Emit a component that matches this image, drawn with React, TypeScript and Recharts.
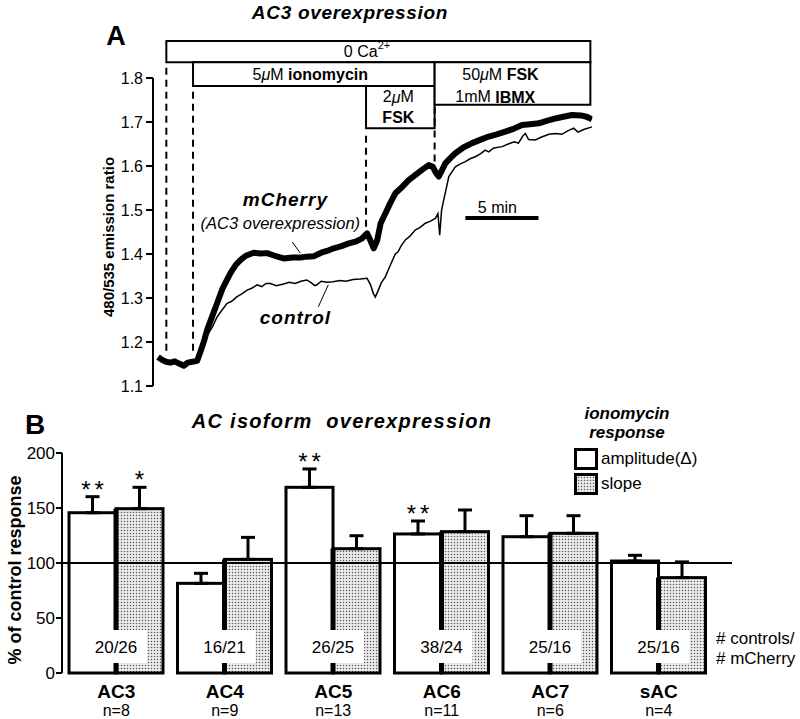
import React from 'react';
import {
  LineChart, Line, XAxis, YAxis, ReferenceArea, ReferenceLine, ReferenceDot,
  BarChart, Bar, ErrorBar, Legend,
} from 'recharts';

const FONT = '"Liberation Sans", Arial, Helvetica, sans-serif';

// ---- Panel A: 480/535 ratio over time (min) ----
const mcherryTime = [0.05, 0.3, 0.6, 0.9, 1.2, 1.5, 1.82, 2.1, 2.4, 2.74, 2.97, 3.2, 3.43, 3.8, 4.12, 4.5, 5.03, 5.4, 5.72, 6.1, 6.64, 7.1, 7.56, 8.1, 8.71, 9.3, 9.86, 10.3, 10.78, 11.3, 11.7, 12.16, 12.7, 13.2, 13.66, 14.1, 14.46, 14.7, 14.92, 15.15, 15.4, 15.72, 16.05, 16.41, 16.9, 17.33, 17.8, 18.25, 18.71, 19.0, 19.2, 19.4, 19.62, 19.86, 20.2, 20.55, 21.1, 21.7, 22.3, 22.85, 23.4, 24.0, 24.6, 25.15, 25.7, 26.3, 26.9, 27.45, 28.0, 28.6, 29.2, 29.6, 29.97];
const mcherryRatio = [1.166, 1.16, 1.155, 1.153, 1.156, 1.151, 1.146, 1.153, 1.155, 1.157, 1.178, 1.2, 1.227, 1.26, 1.288, 1.322, 1.356, 1.375, 1.386, 1.396, 1.403, 1.401, 1.402, 1.396, 1.39, 1.392, 1.392, 1.394, 1.395, 1.403, 1.407, 1.413, 1.418, 1.424, 1.428, 1.435, 1.447, 1.43, 1.413, 1.43, 1.47, 1.492, 1.515, 1.538, 1.553, 1.568, 1.58, 1.591, 1.602, 1.598, 1.585, 1.576, 1.59, 1.606, 1.618, 1.629, 1.642, 1.652, 1.66, 1.667, 1.672, 1.678, 1.685, 1.693, 1.695, 1.697, 1.703, 1.708, 1.712, 1.716, 1.715, 1.712, 1.706];

const controlTime = [0.05, 0.4, 0.8, 1.2, 1.6, 2.0, 2.4, 2.74, 2.97, 3.2, 3.43, 3.79, 4.12, 4.4, 4.81, 5.1, 5.5, 5.85, 6.19, 6.5, 6.88, 7.2, 7.5, 7.8, 8.2, 8.7, 9.1, 9.5, 9.9, 10.3, 10.6, 10.85, 11.0, 11.3, 11.7, 12.1, 12.6, 13.0, 13.5, 14.0, 14.46, 14.7, 14.9, 15.03, 15.2, 15.45, 15.72, 16.0, 16.41, 16.6, 16.8, 17.1, 17.4, 17.8, 18.1, 18.48, 18.8, 19.17, 19.35, 19.47, 19.6, 19.75, 20.1, 20.55, 20.9, 21.24, 21.6, 21.93, 22.3, 22.6, 22.85, 23.2, 23.77, 24.2, 24.6, 24.9, 25.2, 25.38, 25.6, 26.07, 26.5, 27.0, 27.45, 27.9, 28.3, 28.71, 29.0, 29.4, 29.97];
const controlRatio = [1.163, 1.157, 1.152, 1.155, 1.149, 1.154, 1.152, 1.156, 1.172, 1.195, 1.215, 1.234, 1.257, 1.27, 1.288, 1.292, 1.303, 1.31, 1.318, 1.322, 1.33, 1.326, 1.333, 1.333, 1.328, 1.332, 1.336, 1.333, 1.338, 1.341, 1.335, 1.328, 1.33, 1.338, 1.336, 1.337, 1.34, 1.338, 1.342, 1.343, 1.345, 1.33, 1.31, 1.302, 1.315, 1.335, 1.348, 1.37, 1.4, 1.405, 1.418, 1.432, 1.44, 1.455, 1.46, 1.47, 1.474, 1.481, 1.492, 1.443, 1.5, 1.523, 1.576, 1.598, 1.605, 1.61, 1.617, 1.621, 1.628, 1.636, 1.632, 1.641, 1.644, 1.65, 1.655, 1.652, 1.668, 1.674, 1.66, 1.659, 1.666, 1.672, 1.674, 1.672, 1.68, 1.686, 1.677, 1.683, 1.689];

const ratioTicks = [1.1, 1.2, 1.3, 1.4, 1.5, 1.6, 1.7, 1.8];

// ---- Panel B: % of control response ----
const isoforms = ['AC3', 'AC4', 'AC5', 'AC6', 'AC7', 'sAC'];
const nLabels = ['n=8', 'n=9', 'n=13', 'n=11', 'n=6', 'n=4'];
const cellCounts = ['20/26', '16/21', '26/25', '38/24', '25/16', '25/16'];
const amplitude = [145.7, 81.5, 168.8, 126.4, 123.9, 101.8];
const amplitudeErr = [14.6, 9.1, 16.7, 11.8, 19.1, 5.2];
const amplitudeStars = ['**', '', '**', '**', '', ''];
const slope = [149.4, 103.3, 113, 128.5, 127, 86.7];
const slopeErr = [19.4, 20, 11.8, 19.7, 16, 14.3];
const slopeStars = ['*', '', '', '', '', ''];
const percentTicks = [0, 50, 100, 150, 200];

const mcherryRows = mcherryTime.map((t, i) => ({ t, v: mcherryRatio[i] }));
const controlRows = controlTime.map((t, i) => ({ t, v: controlRatio[i] }));

const barRows = isoforms.map((name, i) => ({
  name,
  n: nLabels[i],
  count: cellCounts[i],
  amplitude: amplitude[i],
  ampErr: [0, amplitudeErr[i]],
  ampStar: amplitudeStars[i],
  slope: slope[i],
  slopeErr: [0, slopeErr[i]],
  slopeStar: slopeStars[i],
}));

const centered: React.CSSProperties = {
  position: 'absolute', transform: 'translate(-50%, -50%)', whiteSpace: 'nowrap', lineHeight: 1,
};

function note(key: string, t: number, v: number, content: React.ReactNode, style: any = {}) {
  return (
    <ReferenceDot
      key={key}
      x={t}
      y={v}
      r={1}
      fill="none"
      stroke="none"
      shape={(p: any) => (
        <text x={p.cx} y={p.cy} textAnchor="middle" dominantBaseline="central" fill="#000" fontSize={16} {...style}>
          {content}
        </text>
      )}
    />
  );
}

const mu = <tspan fontStyle="italic">μ</tspan>;

function makeShape(valueKey: string, errKey: string, starKey: string, isSlope: boolean) {
  return (p: any) => {
    const { x, y, width, height, payload } = p;
    const perUnit = height / payload[valueKey];
    const errTop = y - payload[errKey][1] * perUnit;
    const base = y + height;
    return (
      <g>
        <rect x={x} y={y} width={width} height={height} fill={isSlope ? 'url(#stipple)' : '#fff'} stroke="#000" strokeWidth={3} />
        {isSlope && <line x1={x} x2={x} y1={y} y2={base} stroke="#000" strokeWidth={5} />}
        {isSlope && (
          <g>
            <rect x={x - 31} y={base - 43} width={62} height={33} fill="#fff" />
            <text x={x} y={base - 26} textAnchor="middle" dominantBaseline="central" fontSize={17} fill="#000">
              {payload.count}
            </text>
          </g>
        )}
        {payload[starKey] && (
          <text x={x + width / 2 + 2} y={errTop + 1} textAnchor="middle" fontSize={24} letterSpacing={4} fill="#000">
            {payload[starKey]}
          </text>
        )}
      </g>
    );
  };
}

const IsoTick = (p: any) => {
  const i = isoforms.indexOf(p.payload.value);
  return (
    <g>
      <text x={p.x} y={p.y + 18} textAnchor="middle" dominantBaseline="central" fontSize={19} fontWeight="bold" fill="#000">
        {p.payload.value}
      </text>
      <text x={p.x} y={p.y + 37} textAnchor="middle" dominantBaseline="central" fontSize={16} fill="#000">
        {nLabels[i]}
      </text>
    </g>
  );
};

const LegendBox = (props: any) => {
  const items = props.payload || [];
  return (
    <div style={{ position: 'relative', width: 150, height: 100, fontFamily: FONT, color: '#000' }}>
      <div style={{ ...centered, left: 67, top: 13, fontWeight: 'bold', fontStyle: 'italic', fontSize: 17 }}>ionomycin</div>
      <div style={{ ...centered, left: 67, top: 32, fontWeight: 'bold', fontStyle: 'italic', fontSize: 17 }}>response</div>
      {items.map((e: any, i: number) => (
        <div key={e.value} style={{ position: 'absolute', left: 14, top: 48 + i * 25, height: 22, display: 'flex', alignItems: 'center' }}>
          <svg width={24} height={22} style={{ display: 'block' }}>
            <rect x={1.5} y={1.5} width={21} height={19} fill={e.color} stroke="#000" strokeWidth={3} />
          </svg>
          <span style={{ fontSize: 17, marginLeft: 3, whiteSpace: 'nowrap' }}>{e.value}</span>
        </div>
      ))}
    </div>
  );
};

export default function App() {
  return (
    <div style={{ position: 'absolute', left: 0, top: 0, width: 800, height: 719, overflow: 'hidden', background: '#fff', fontFamily: FONT, color: '#000' }}>
      {/* Panel A */}
      <div style={{ position: 'absolute', left: 0, top: 0 }}>
        <LineChart width={800} height={400} margin={{ top: 34, right: 207.6, bottom: 14, left: 93 }}>
          <XAxis type="number" dataKey="t" domain={[-0.3, 30]} hide allowDataOverflow />
          <YAxis
            type="number"
            domain={[1.1, 1.9]}
            ticks={ratioTicks}
            width={60}
            axisLine={false}
            tickSize={7}
            tickMargin={3}
            tickLine={{ stroke: '#000', strokeWidth: 2 }}
            tick={{ fill: '#000', fontSize: 16 }}
            tickFormatter={(v: number) => v.toFixed(1)}
            allowDataOverflow
          />
          <ReferenceLine segment={[{ x: -0.3, y: 1.1 }, { x: -0.3, y: 1.8 }]} stroke="#000" strokeWidth={2} />

          <ReferenceArea x1={0.62} x2={29.86} y1={1.836} y2={1.884} fill="#fff" fillOpacity={1} stroke="#000" strokeWidth={2} />
          <ReferenceArea x1={2.46} x2={19.12} y1={1.782} y2={1.836} fill="#fff" fillOpacity={1} stroke="#000" strokeWidth={2} />
          <ReferenceArea x1={14.39} x2={19.12} y1={1.686} y2={1.782} fill="#fff" fillOpacity={1} stroke="#000" strokeWidth={2} />
          <ReferenceArea x1={19.12} x2={29.86} y1={1.739} y2={1.836} fill="#fff" fillOpacity={1} stroke="#000" strokeWidth={2} />

          <ReferenceLine segment={[{ x: 0.62, y: 1.18 }, { x: 0.62, y: 1.826 }]} stroke="#000" strokeWidth={2} strokeDasharray="7 5" />
          <ReferenceLine segment={[{ x: 2.46, y: 1.18 }, { x: 2.46, y: 1.776 }]} stroke="#000" strokeWidth={2} strokeDasharray="7 5" />
          <ReferenceLine segment={[{ x: 14.39, y: 1.462 }, { x: 14.39, y: 1.68 }]} stroke="#000" strokeWidth={2} strokeDasharray="7 5" />
          <ReferenceLine segment={[{ x: 19.12, y: 1.61 }, { x: 19.12, y: 1.733 }]} stroke="#000" strokeWidth={2} strokeDasharray="7 5" />

          {note('ca', 14.46, 1.861, <>0 Ca<tspan dy={-6} fontSize={11}>2+</tspan></>)}
          {note('iono', 10.55, 1.808, <>5{mu}M <tspan fontWeight="bold">ionomycin</tspan></>)}
          {note('fsk2a', 16.62, 1.757, <>2{mu}M</>)}
          {note('fsk2b', 16.62, 1.711, <tspan fontWeight="bold">FSK</tspan>)}
          {note('fsk50', 23.66, 1.808, <>50{mu}M <tspan fontWeight="bold">FSK</tspan></>)}
          {note('ibmx', 23.3, 1.757, <>1mM <tspan fontWeight="bold">IBMX</tspan></>)}
          {note('mch', 8.83, 1.523, 'mCherry', { fontSize: 19, fontWeight: 'bold', fontStyle: 'italic', letterSpacing: 1 })}
          {note('mch2', 8.48, 1.47, '(AC3 overexpression)', { fontSize: 16.5, fontStyle: 'italic' })}
          {note('ctl', 9.52, 1.255, 'control', { fontSize: 19, fontWeight: 'bold', fontStyle: 'italic', letterSpacing: 1 })}
          {note('min', 23.45, 1.505, '5 min', { fontSize: 16 })}

          <ReferenceLine segment={[{ x: 9.31, y: 1.427 }, { x: 9.86, y: 1.402 }]} stroke="#000" strokeWidth={1} />
          <ReferenceLine segment={[{ x: 11.1, y: 1.28 }, { x: 11.79, y: 1.33 }]} stroke="#000" strokeWidth={1} />
          <ReferenceLine segment={[{ x: 21.24, y: 1.482 }, { x: 26.28, y: 1.482 }]} stroke="#000" strokeWidth={4} />

          <Line data={controlRows} dataKey="v" type="linear" stroke="#000" strokeWidth={1.5} dot={false} isAnimationActive={false} />
          <Line data={mcherryRows} dataKey="v" type="linear" stroke="#000" strokeWidth={6} strokeLinejoin="round" dot={false} isAnimationActive={false} />
        </LineChart>
      </div>

      {/* Panel B */}
      <div style={{ position: 'absolute', left: 0, top: 400 }}>
        <BarChart width={800} height={319} data={barRows} margin={{ top: 53, right: 68, bottom: 0, left: 12 }} barCategoryGap={7} barGap={0}>
          <defs>
            <pattern id="stipple" width={3} height={3} patternUnits="userSpaceOnUse">
              <rect width={3} height={3} fill="#ececec" />
              <circle cx={1.5} cy={1.5} r={0.75} fill="#555" />
            </pattern>
          </defs>
          <XAxis dataKey="name" axisLine={false} tickLine={false} tickSize={0} tickMargin={0} height={46} padding={{ left: 0, right: 19 }} tick={<IsoTick />} interval={0} />
          <YAxis
            domain={[0, 200]}
            ticks={percentTicks}
            width={50}
            tickSize={6}
            tickMargin={1}
            axisLine={{ stroke: '#000', strokeWidth: 2 }}
            tickLine={{ stroke: '#000', strokeWidth: 2 }}
            tick={{ fill: '#000', fontSize: 17 }}
          />
          <Legend
            layout="horizontal"
            verticalAlign="middle"
            align="center"
            content={<LegendBox />}
            wrapperStyle={{ position: 'absolute', left: 560, top: 0, width: 150, height: 100 }}
          />
          <Bar dataKey="amplitude" name="amplitude(Δ)" fill="#fff" shape={makeShape('amplitude', 'ampErr', 'ampStar', false)} isAnimationActive={false}>
            <ErrorBar dataKey="ampErr" width={7} stroke="#000" strokeWidth={3} />
          </Bar>
          <Bar dataKey="slope" name="slope" fill="url(#stipple)" shape={makeShape('slope', 'slopeErr', 'slopeStar', true)} isAnimationActive={false}>
            <ErrorBar dataKey="slopeErr" width={7} stroke="#000" strokeWidth={3} />
          </Bar>
          <ReferenceLine y={100} stroke="#000" strokeWidth={2} />
        </BarChart>
      </div>

      {/* Titles and axis labels */}
      <div style={{ ...centered, left: 350, top: 12, fontSize: 19, fontWeight: 'bold', fontStyle: 'italic', letterSpacing: 0.7 }}>AC3 overexpression</div>
      <div style={{ ...centered, left: 116, top: 36, fontSize: 27, fontWeight: 'bold' }}>A</div>
      <div style={{ ...centered, left: 108, top: 237, fontSize: 15, fontWeight: 'bold', transform: 'translate(-50%, -50%) rotate(-90deg)' }}>480/535 emission ratio</div>

      <div style={{ ...centered, left: 35, top: 425, fontSize: 28, fontWeight: 'bold' }}>B</div>
      <div style={{ ...centered, left: 342, top: 421, fontSize: 20, fontWeight: 'bold', fontStyle: 'italic', letterSpacing: 1.3 }}>AC isoform&nbsp; overexpression</div>
      <div style={{ ...centered, left: 15, top: 570, fontSize: 18, fontWeight: 'bold', transform: 'translate(-50%, -50%) rotate(-90deg)' }}>% of control response</div>

      <div style={{ position: 'absolute', left: 716, top: 629, fontSize: 17, lineHeight: '20px', whiteSpace: 'nowrap' }}>
        # controls/<br /># mCherry
      </div>
    </div>
  );
}
